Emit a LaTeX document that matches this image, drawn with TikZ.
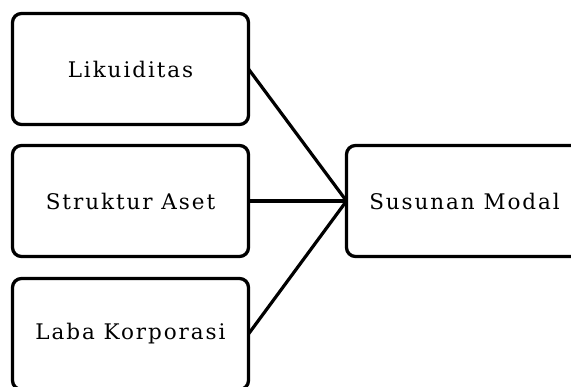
\documentclass[tikz,border=0pt]{standalone}
\usepackage{fontspec}
\setmainfont{DejaVu Serif}[LetterSpace=9]
\usepackage{tikz}
\usetikzlibrary{positioning}

\tikzset{
    kotak/.style={draw, line width=3.3pt, rounded corners=9pt, minimum width=236pt,
        minimum height=111pt, inner sep=0pt, outer sep=0pt, align=center,
        font=\fontsize{21.5}{25}\selectfont},
    garis/.style={line width=3.2pt}
}

\begin{document}
\begin{tikzpicture}[x=1pt, y=1pt]
        % Batas gambar
        \useasboundingbox (0,0) rectangle (571,387);

        % Variabel bebas
        \node[kotak] (likuid) at (130.5,318) {Likuiditas};
        \node[kotak] (aset) at (130.5,186) {Struktur Aset};
        \node[kotak] (laba) at (130.5,53) {Laba Korporasi};

        % Variabel terikat
        \node[kotak] (modal) at (464.5,186) {Susunan Modal};

        % Garis penghubung
        \draw[garis] (likuid.east) -- (modal.west);
        \draw[garis] (aset.east) -- (modal.west);
        \draw[garis] (laba.east) -- (modal.west);
    \end{tikzpicture}
\end{document}
